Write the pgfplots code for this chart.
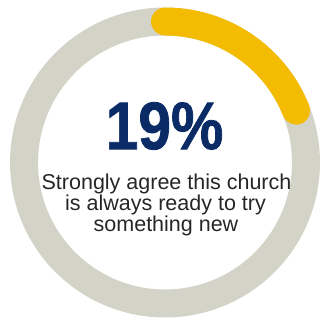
\documentclass[border=0pt]{standalone}
\usepackage{pgfplots}
\pgfplotsset{compat=1.18}
\usepackage{pgfplotstable}
\usepgfplotslibrary{polar}
\usepackage{fontspec}
\setmainfont{Liberation Sans}
\newfontfamily\heavyfont[FakeBold=1.2]{Liberation Sans Bold}
\definecolor{ringgray}{HTML}{D3D4C7}
\definecolor{ringyellow}{HTML}{F3BC00}
\definecolor{navy}{HTML}{0B2B66}
\definecolor{bodytext}{HTML}{262626}

% share of respondents (percent)
\pgfplotstableread{
label value
agree 19
}\datatable
\pgfplotstablegetelem{0}{value}\of\datatable
\let\share\pgfplotsretval

\begin{document}
\begin{tikzpicture}[x=1pt,y=1pt]
\useasboundingbox (0,0) rectangle (322,323);
\begin{polaraxis}[
  at={(165pt,160.5pt)}, anchor=origin,
  scale only axis, width=282pt, height=282pt,
  ymin=0, ymax=1, hide axis, clip=false,
]
\addplot[ringgray, line width=28pt, line join=round, domain=0:360, samples=181, no markers] ({x},{1});
\addplot[ringyellow, line width=28pt, line cap=round, line join=round, domain={90-3.6*\share}:90, samples=60, no markers] ({x},{1});
\end{polaraxis}
\node[text=navy] at (164.5,197) {\scalebox{0.98}[1.12]{\heavyfont\fontsize{60}{60}\selectfont 19\%}};
\node[anchor=base, inner sep=0pt, font=\fontsize{21.5}{24}\selectfont, text=bodytext] at (166.5,133) {Strongly agree this church};
\node[anchor=base, inner sep=0pt, font=\fontsize{21.5}{24}\selectfont, text=bodytext] at (165.5,112) {is always ready to try};
\node[anchor=base, inner sep=0pt, font=\fontsize{21.5}{24}\selectfont, text=bodytext] at (166,91) {something new};
\end{tikzpicture}
\end{document}
